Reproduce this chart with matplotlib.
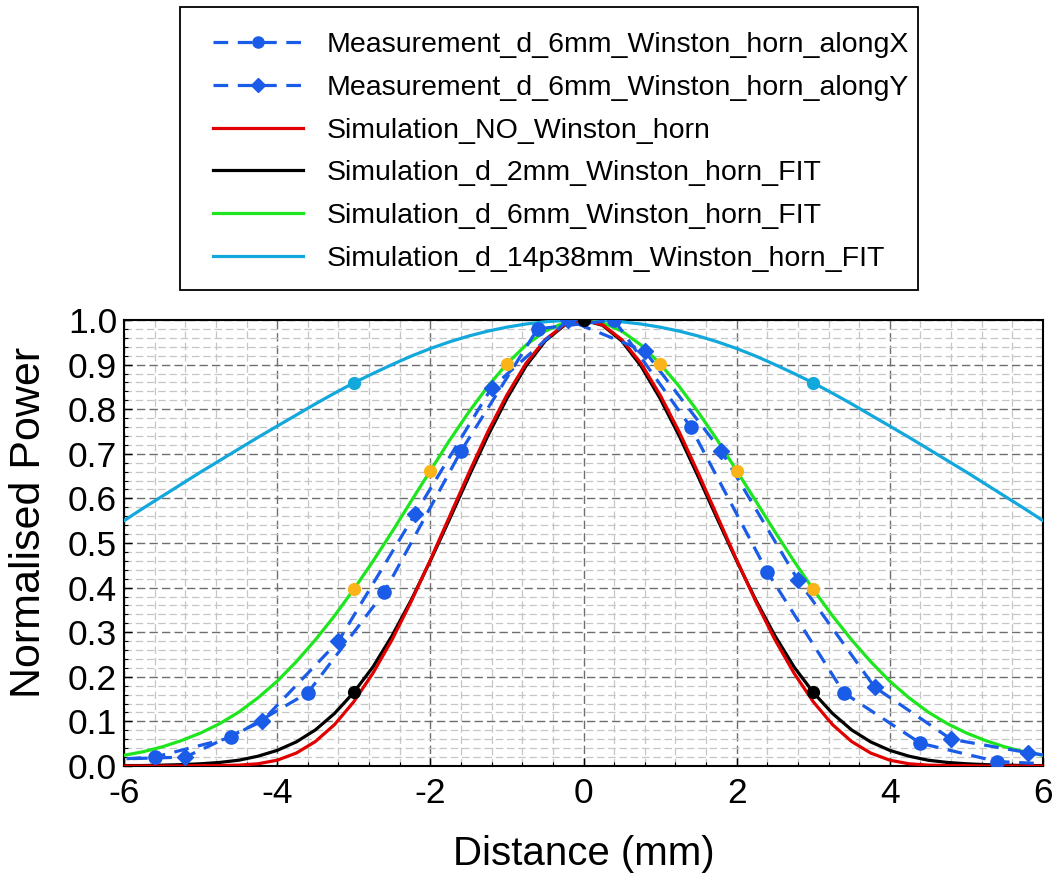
import numpy as np
import matplotlib
matplotlib.use("Agg")
import matplotlib.pyplot as plt
from matplotlib.lines import Line2D
from matplotlib.patches import Rectangle
from matplotlib.ticker import MultipleLocator, FormatStrFormatter

plt.rcParams["font.family"] = ["Liberation Sans", "DejaVu Sans"]
plt.rcParams["axes.unicode_minus"] = False

# Simulated beam profiles, symmetric about 0 mm (half profile, 0 .. 6 mm, 0.25 mm step)
x_half = [0.00, 0.25, 0.50, 0.75, 1.00, 1.25, 1.50, 1.75, 2.00, 2.25, 2.50, 2.75,
          3.00, 3.25, 3.50, 3.75, 4.00, 4.25, 4.50, 4.75, 5.00, 5.25, 5.50, 5.75, 6.00]
sim_no_horn = [1.000, 0.989, 0.956, 0.903, 0.832, 0.749, 0.656, 0.559, 0.462, 0.369, 0.283, 0.208,
               0.144, 0.093, 0.055, 0.029, 0.013, 0.005, 0.002, 0.001, 0.001, 0.000, 0.000, 0.000, 0.000]
sim_d2mm = [1.000, 0.988, 0.953, 0.897, 0.824, 0.740, 0.648, 0.553, 0.460, 0.372, 0.292, 0.222,
            0.165, 0.118, 0.081, 0.054, 0.035, 0.022, 0.013, 0.008, 0.005, 0.003, 0.002, 0.001, 0.001]
sim_d6mm = [1.000, 0.994, 0.975, 0.944, 0.902, 0.851, 0.793, 0.730, 0.662, 0.594, 0.525, 0.459,
            0.396, 0.337, 0.283, 0.234, 0.190, 0.153, 0.121, 0.095, 0.074, 0.057, 0.043, 0.032, 0.024]
sim_d14p38mm = [1.000, 0.999, 0.996, 0.991, 0.984, 0.975, 0.964, 0.951, 0.936, 0.919, 0.900, 0.880,
                0.859, 0.836, 0.812, 0.787, 0.762, 0.737, 0.711, 0.685, 0.659, 0.632, 0.605, 0.578, 0.550]

# Positions of the markers placed on the simulated curves
mark_d2mm = [-3.0, 0.0, 3.0]
mark_d6mm = [-3.0, -2.0, -1.0, 1.0, 2.0, 3.0]
mark_d14p38mm = [-3.0, 3.0]

# Measured profiles
meas_x_pos = [-6.6, -5.6, -4.6, -3.6, -2.6, -1.6, -0.6, 0.4, 1.4, 2.4, 3.4, 4.4, 5.4, 6.4]
meas_x_val = [0.010, 0.020, 0.064, 0.164, 0.390, 0.706, 0.980, 1.000, 0.760, 0.435, 0.164, 0.051, 0.010, 0.002]
meas_y_pos = [-6.2, -5.2, -4.2, -3.2, -2.2, -1.2, -0.2, 0.8, 1.8, 2.8, 3.8, 4.8, 5.8, 6.8]
meas_y_val = [0.015, 0.020, 0.100, 0.280, 0.565, 0.848, 1.000, 0.930, 0.706, 0.417, 0.177, 0.060, 0.030, 0.005]

labels = [
    "Measurement_d_6mm_Winston_horn_alongX",
    "Measurement_d_6mm_Winston_horn_alongY",
    "Simulation_NO_Winston_horn",
    "Simulation_d_2mm_Winston_horn_FIT",
    "Simulation_d_6mm_Winston_horn_FIT",
    "Simulation_d_14p38mm_Winston_horn_FIT",
]

C_MEAS = "#1a5ce8"
C_RED = "#e10000"
C_BLACK = "#000000"
C_GREEN = "#1ee61e"
C_CYAN = "#12a8dc"
C_GOLD = "#fbb418"


def full_profile(half):
    xs = np.concatenate([-np.array(x_half[:0:-1]), np.array(x_half)])
    ys = np.concatenate([np.array(half[:0:-1]), np.array(half)])
    return xs, ys


def values_at(half, positions):
    lookup = {round(x, 2): v for x, v in zip(x_half, half)}
    return [lookup[round(abs(p), 2)] for p in positions]


fig = plt.figure(figsize=(10.58, 8.77), dpi=100)
ax = fig.add_axes([124 / 1058, 1 - 766 / 877, (1043 - 124) / 1058, (766 - 320) / 877])

lw = 2.3
for half, col in [(sim_d14p38mm, C_CYAN), (sim_d6mm, C_GREEN), (sim_d2mm, C_BLACK), (sim_no_horn, C_RED)]:
    xs, ys = full_profile(half)
    ax.plot(xs, ys, color=col, lw=lw, zorder=3)

meas_dash = (4.6, 3.0)
ax.plot(meas_x_pos, meas_x_val, color=C_MEAS, lw=2.3, ls="--", dashes=meas_dash,
        marker="o", ms=9.5, zorder=4)
ax.plot(meas_y_pos, meas_y_val, color=C_MEAS, lw=2.3, ls="--", dashes=meas_dash,
        marker="D", ms=8.5, zorder=4)

ax.plot(mark_d2mm, values_at(sim_d2mm, mark_d2mm), ls="none", marker="o", ms=8.5,
        color=C_BLACK, zorder=5)
ax.plot(mark_d6mm, values_at(sim_d6mm, mark_d6mm), ls="none", marker="o", ms=8.5,
        color=C_GOLD, zorder=5)
ax.plot(mark_d14p38mm, values_at(sim_d14p38mm, mark_d14p38mm), ls="none", marker="o", ms=8.5,
        color=C_CYAN, zorder=5)

ax.set_xlim(-6, 6)
ax.set_ylim(0, 1.0)
ax.xaxis.set_major_locator(MultipleLocator(2))
ax.xaxis.set_minor_locator(MultipleLocator(0.4))
ax.yaxis.set_major_locator(MultipleLocator(0.1))
ax.yaxis.set_minor_locator(MultipleLocator(0.02))
ax.yaxis.set_major_formatter(FormatStrFormatter("%.1f"))

ax.grid(which="major", color="#6e6e6e", ls=(0, (6, 3)), lw=1.0, zorder=1)
ax.grid(which="minor", color="#c6c6c6", ls=(0, (6, 3)), lw=0.9, zorder=1)
ax.set_axisbelow(True)

ax.tick_params(which="both", direction="in", colors="black", labelsize=25.5)
ax.tick_params(which="major", length=6, width=1.0, pad=5)
ax.tick_params(which="minor", length=3, width=0.8)
ax.tick_params(axis="x", pad=8)
for s in ax.spines.values():
    s.set_linewidth(1.5)
    s.set_color("black")

ax.set_xlabel("Distance (mm)", fontsize=29, labelpad=18)
ax.set_ylabel("Normalised Power", fontsize=31)
ax.yaxis.set_label_coords(-0.082, 0.547)

# legend
handles = [
    Line2D([], [], color=C_MEAS, lw=2.3, ls="--", dashes=meas_dash, marker="o", ms=8),
    Line2D([], [], color=C_MEAS, lw=2.3, ls="--", dashes=meas_dash, marker="D", ms=7),
    Line2D([], [], color=C_RED, lw=lw),
    Line2D([], [], color=C_BLACK, lw=lw),
    Line2D([], [], color=C_GREEN, lw=lw),
    Line2D([], [], color=C_CYAN, lw=lw),
]
fig.legend(handles, labels, loc="upper left", bbox_to_anchor=(213 / 1058, 1 - 32 / 877),
           frameon=False, fontsize=20.5, handlelength=3.15, handletextpad=0.85,
           labelspacing=0.59, borderpad=0, borderaxespad=0)
fig.patches.append(Rectangle((180 / 1058, 1 - 290 / 877), (918 - 180) / 1058, (290 - 7) / 877,
                             transform=fig.transFigure, fill=False, edgecolor="black", lw=1.3))

fig.savefig("out.png", dpi=100)
